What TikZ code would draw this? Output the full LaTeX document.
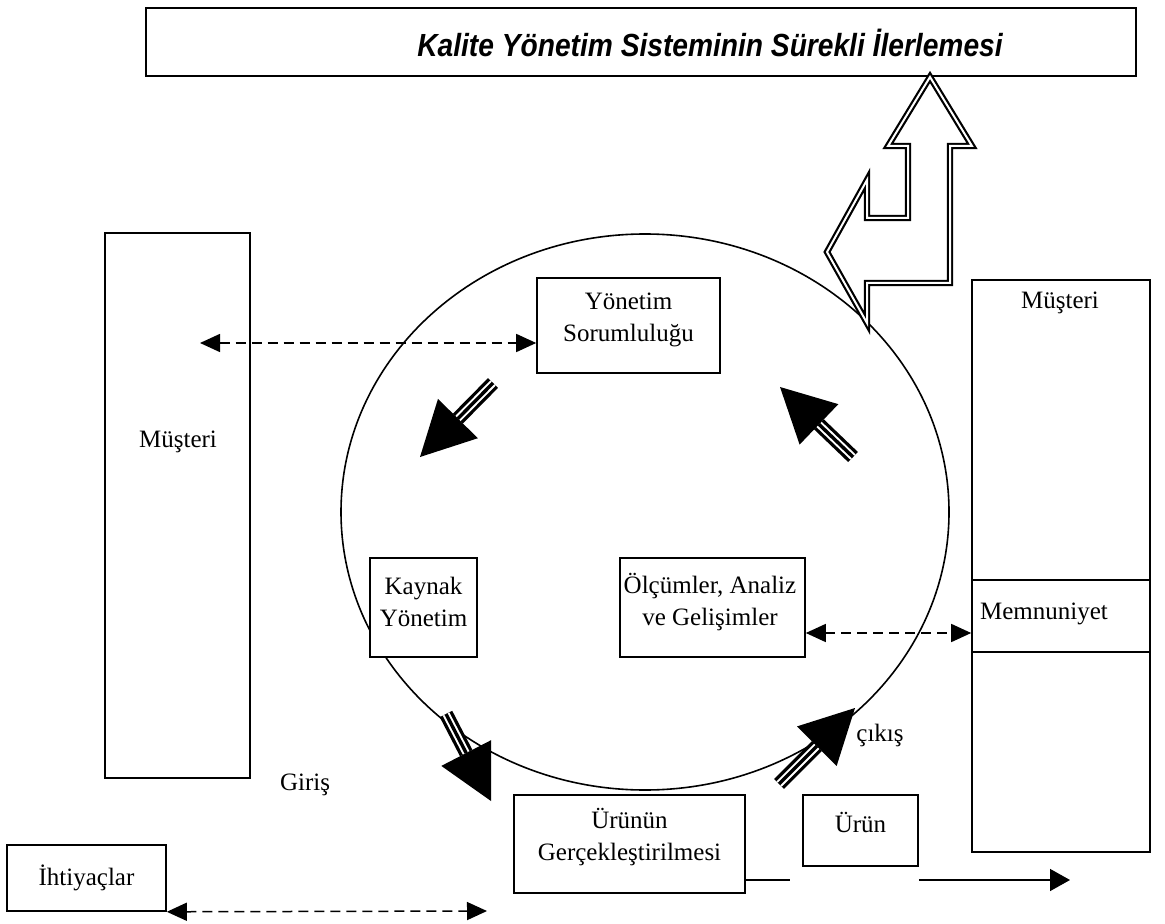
\documentclass[tikz,border=0pt]{standalone}
\usepackage{fontspec}
\setmainfont{Liberation Serif}
\newfontfamily\titlefont[FakeStretch=0.88]{Liberation Sans}
\usetikzlibrary{arrows.meta,calc}
\newcommand\fatarrow[2]{%
  \coordinate (fab) at ($(#2)!27pt!(#1)$);
  \draw[line width=7pt] (#1) -- (fab);
  \draw[white, line width=1pt, double=black, double distance=1.7pt] (#1) -- (fab);
  \fill ($(fab)!14pt!90:(#2)$) -- (#2) -- ($(fab)!14pt!-90:(#2)$) -- cycle;
}
\begin{document}
\begin{tikzpicture}[x=0.5pt,y=-0.5pt,
  box/.style={draw, line width=0.8pt, fill=white, inner sep=0pt, rectangle},
  txt/.style={font=\fontsize{12.5}{16}\selectfont, inner sep=0pt, align=center},
  dasharrow/.style={line width=0.75pt, dash pattern=on 5pt off 3pt,
    {Triangle[length=10pt,width=9pt]}-{Triangle[length=10pt,width=9pt]}},
  solidarrow/.style={line width=0.75pt, -{Triangle[length=10pt,width=11pt]}},
  hollow/.style={draw, fill=white, line width=1.1pt, double, double distance=1pt, line join=miter}
]
\useasboundingbox (0,0) rectangle (1165,924);

% title
\node[box, line width=1.3pt, minimum width=495pt, minimum height=34pt] (title) at (641,42) {};
\node[inner sep=0pt, font=\titlefont\bfseries\itshape\fontsize{16}{18}\selectfont] (titletxt) at (710,43) {Kalite Yönetim Sisteminin Sürekli İlerlemesi};

% circle
\draw[line width=0.8pt] (645,512) ellipse [x radius=152pt, y radius=139pt];

% hollow double arrow
\draw[hollow] (930,77) -- (972,146) -- (950,146) -- (950,283) -- (867,283) -- (867,323)
  -- (827,252) -- (867,180) -- (867,218) -- (908,218) -- (908,146) -- (888,146) -- cycle;

% left customer
\node[box, minimum width=72.5pt, minimum height=272.5pt] (lbox) at (177.5,505.5) {};
\node[txt] (lmus) at (178,442) {Müşteri};

% right customer
\node[box, minimum width=89pt, minimum height=286pt] (rbox) at (1061,566) {};
\node[txt] (rmus) at (1060,303) {Müşteri};
\coordinate (m1) at (0,580);
\coordinate (m2) at (0,652);
\draw[line width=0.8pt] (rbox.west |- m1) -- (rbox.east |- m1);
\draw[line width=0.8pt] (rbox.west |- m2) -- (rbox.east |- m2);
\node[txt] (memn) at (1044,614) {Memnuniyet};

% inner boxes
\node[box, minimum width=91.5pt, minimum height=47.5pt] (yon) at (628.5,325.5) {};
\node[txt] (yontxt) at (628.5,320) {Yönetim\\Sorumluluğu};
\node[box, minimum width=53.5pt, minimum height=49.5pt] (kay) at (423.5,607.5) {};
\node[txt] (kaytxt) at (423.5,602) {Kaynak\\Yönetim};
\node[box, minimum width=92.5pt, minimum height=49.5pt] (olc) at (712.5,607.5) {};
\node[txt] (olctxt) at (710,602) {Ölçümler, Analiz\\ve Gelişimler};

% bottom boxes
\node[box, minimum width=115.5pt, minimum height=49pt] (urg) at (629.5,844) {};
\node[txt] (urgtxt) at (629.5,837) {Ürünün\\Gerçekleştirilmesi};
\node[box, minimum width=57.5pt, minimum height=35.5pt] (urun) at (860.5,830.5) {};
\node[txt] (uruntxt) at (860.5,822) {Ürün};
\node[box, minimum width=79.5pt, minimum height=33pt] (iht) at (86.5,878) {};
\node[txt] (ihttxt) at (86.5,878) {İhtiyaçlar};

\node[txt] (giris) at (305,785) {Giriş};
\node[txt] (cikis) at (880,735) {çıkış};

% dashed arrows
\coordinate (la) at (200,343);
\draw[dasharrow] (la) -- (la -| yon.west);
\coordinate (ma) at (0,633);
\draw[dasharrow] (olc.east |- ma) -- (rbox.west |- ma);
\coordinate (gt) at (487,911);
\draw[dasharrow] (iht.south east) -- (gt);

% output line
\coordinate (bl) at (0,880);
\coordinate (blend) at (790,880);
\coordinate (bltip) at (1070,880);
\draw[line width=0.75pt] (urg.east |- bl) -- (blend);
\draw[solidarrow] (urun.east |- bl) -- (bltip);

% fat arrows
\coordinate (t1) at (493,383); \coordinate (h1) at (420,457);
\coordinate (t2) at (853,457); \coordinate (h2) at (780,387);
\coordinate (t3) at (446,714); \coordinate (h3) at (491,801);
\coordinate (t4) at (779,784); \coordinate (h4) at (855,708);
\fatarrow{t1}{h1}
\fatarrow{t2}{h2}
\fatarrow{t3}{h3}
\fatarrow{t4}{h4}
\end{tikzpicture}
\end{document}
